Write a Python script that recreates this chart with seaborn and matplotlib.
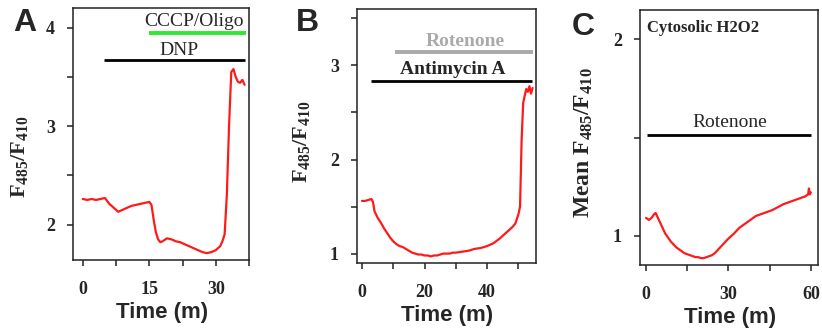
import numpy as np
import pandas as pd
import matplotlib
matplotlib.use("Agg")
import matplotlib.pyplot as plt
import seaborn as sns
from matplotlib.ticker import MultipleLocator

# Panel A: DNP then CCCP/Oligo
time_a = [0, 1, 2, 3, 4, 5, 5.5, 6, 7, 8, 9, 10, 11, 12, 13, 14, 15, 15.5, 16, 16.5,
          17, 17.5, 18, 19, 20, 21, 22, 23, 24, 25, 26, 27, 28, 29, 30, 31, 31.5, 32,
          32.5, 33, 33.5, 34, 34.5, 35, 35.5, 36, 36.5]
ratio_a = [2.26, 2.25, 2.26, 2.25, 2.26, 2.27, 2.24, 2.21, 2.17, 2.13, 2.15, 2.17, 2.19,
           2.20, 2.21, 2.22, 2.23, 2.20, 2.05, 1.92, 1.85, 1.82, 1.83, 1.86, 1.85, 1.83,
           1.82, 1.80, 1.78, 1.76, 1.74, 1.72, 1.71, 1.72, 1.74, 1.78, 1.83, 1.90, 2.30,
           3.00, 3.55, 3.58, 3.50, 3.45, 3.44, 3.47, 3.42]

# Panel B: Antimycin A + Rotenone
time_b = [0, 1, 2, 3, 3.5, 4, 5, 6, 7, 8, 9, 10, 11, 12, 13, 14, 15, 16, 17, 18, 19, 20,
          21, 22, 23, 24, 25, 26, 27, 28, 29, 30, 32, 34, 36, 38, 40, 42, 44, 46, 48, 49,
          50, 50.5, 51, 51.5, 52, 52.5, 53, 53.5, 54, 54.5]
ratio_b = [1.56, 1.56, 1.57, 1.58, 1.55, 1.45, 1.38, 1.33, 1.27, 1.22, 1.17, 1.13, 1.10,
           1.08, 1.07, 1.05, 1.03, 1.01, 1.00, 0.99, 0.99, 0.98, 0.98, 0.97, 0.98, 0.98,
           0.99, 1.00, 1.00, 1.00, 1.01, 1.01, 1.02, 1.03, 1.05, 1.06, 1.08, 1.11, 1.16,
           1.22, 1.28, 1.32, 1.42, 1.50, 2.20, 2.60, 2.68, 2.75, 2.72, 2.78, 2.70, 2.76]

# Panel C: cytosolic H2O2, rotenone
time_c = [0, 1, 2, 3, 3.5, 4, 5, 6, 7, 8, 9, 10, 11, 12, 13, 14, 15, 16, 17, 18, 19, 20,
          21, 22, 23, 24, 25, 26, 27, 28, 30, 32, 34, 36, 38, 40, 42, 44, 46, 48, 50, 52,
          54, 56, 58, 59, 59.3, 59.6, 60]
ratio_c = [1.09, 1.08, 1.09, 1.11, 1.115, 1.10, 1.07, 1.04, 1.01, 0.99, 0.97, 0.955, 0.94,
           0.93, 0.92, 0.91, 0.905, 0.90, 0.895, 0.89, 0.89, 0.885, 0.885, 0.89, 0.895,
           0.90, 0.91, 0.925, 0.94, 0.955, 0.985, 1.01, 1.04, 1.06, 1.08, 1.10, 1.11, 1.12,
           1.13, 1.145, 1.16, 1.17, 1.18, 1.19, 1.20, 1.21, 1.24, 1.21, 1.22]

# treatment bars: (label, start, end, level, colour)
bars_a = [("CCCP/Oligo", 15, 36.8, 3.95, "#33e633"), ("DNP", 4.7, 36.7, 3.67, "black")]
bars_b = [("Rotenone", 10.6, 54.5, 3.14, "#aaaaaa"), ("Antimycin A", 2.8, 54.4, 2.83, "black")]
bars_c = [("Rotenone", 0.4, 60.2, 1.515, "black")]

sns.set_style("ticks")
plt.rcParams["font.family"] = ["Liberation Serif", "DejaVu Serif"]
plt.rcParams["mathtext.fontset"] = "custom"
plt.rcParams["mathtext.rm"] = "Liberation Serif"
plt.rcParams["mathtext.bf"] = "Liberation Serif:bold"
plt.rcParams["mathtext.it"] = "Liberation Serif:italic"

fig = plt.figure(figsize=(8.22, 3.3), dpi=100)
ax_a = fig.add_axes([73/822, 70/330, 176/822, 252/330])
ax_b = fig.add_axes([357/822, 67/330, 179/822, 254/330])
ax_c = fig.add_axes([640/822, 65/330, 178/822, 255/330])

panels = [
    (ax_a, time_a, ratio_a, bars_a, (-2.2, 37.5), (1.64, 4.2), 15, 7.5,
     r"$\mathbf{F_{485}/F_{410}}$", 16, -0.244, 0.41),
    (ax_b, time_b, ratio_b, bars_b, (-1.6, 55.6), (0.9, 3.6), 20, 10,
     r"$\mathbf{F_{485}/F_{410}}$", 16, -0.25, 0.476),
    (ax_c, time_c, ratio_c, bars_c, (-2.2, 62.6), (0.85, 2.15), 30, 15,
     r"$\mathbf{Mean\ F_{485}/F_{410}}$", 17, -0.253, 0.48),
]

for ax, t, r, bars, xl, yl, xmaj, xmin, ylab, ysize, lx, ly in panels:
    df = pd.DataFrame({"time": t, "ratio": r})
    sns.lineplot(data=df, x="time", y="ratio", color="#ff1a1a", linewidth=1.6, ax=ax)
    for name, x0, x1, lvl, col in bars:
        ax.plot([x0, x1], [lvl, lvl], color=col, linewidth=2.8 if col != "black" else 2.0,
                solid_capstyle="butt")
    ax.set_xlim(*xl)
    ax.set_ylim(*yl)
    ax.xaxis.set_major_locator(MultipleLocator(xmaj))
    ax.xaxis.set_minor_locator(MultipleLocator(xmin))
    ax.yaxis.set_major_locator(MultipleLocator(1))
    ax.yaxis.set_minor_locator(MultipleLocator(0.5))
    ax.tick_params(which="both", direction="out", length=4, width=1.1, color="#222222")
    ax.tick_params(axis="x", which="major", pad=11, labelsize=13)
    ax.tick_params(axis="y", which="major", pad=9, labelsize=13)
    for lab in ax.get_xticklabels() + ax.get_yticklabels():
        lab.set_fontweight("bold")
    for s in ax.spines.values():
        s.set_linewidth(1.1)
        s.set_color("#222222")
    ax.set_ylabel(ylab, fontsize=ysize)
    ax.yaxis.set_label_coords(lx, ly)
    ax.set_xlabel("Time (m)", fontsize=16, fontweight="bold", family="Liberation Sans")
    ax.xaxis.set_label_coords(0.505, -0.165)

# treatment labels
ax_a.text(25, 4.06, "CCCP/Oligo", ha="center", va="center", fontsize=14)
ax_a.text(21.7, 3.77, "DNP", ha="center", va="center", fontsize=14)
ax_b.text(33, 3.25, "Rotenone", ha="center", va="center", fontsize=14,
          color="#aaaaaa", fontweight="bold")
ax_b.text(29, 2.96, "Antimycin A", ha="center", va="center", fontsize=14, fontweight="bold")
ax_c.text(30.5, 1.575, "Rotenone", ha="center", va="center", fontsize=14)
ax_c.text(0.04, 0.93, "Cytosolic H2O2", transform=ax_c.transAxes, ha="left", va="center",
          fontsize=12, fontweight="bold")

# panel letters
for x, y, letter in [(25, 23, "A"), (307, 23, "B"), (583, 27, "C")]:
    fig.text(x/822, 1 - y/330, letter, ha="center", va="center", fontsize=23,
             fontweight="bold", family="Liberation Sans")

fig.savefig("out.png", dpi=100)
